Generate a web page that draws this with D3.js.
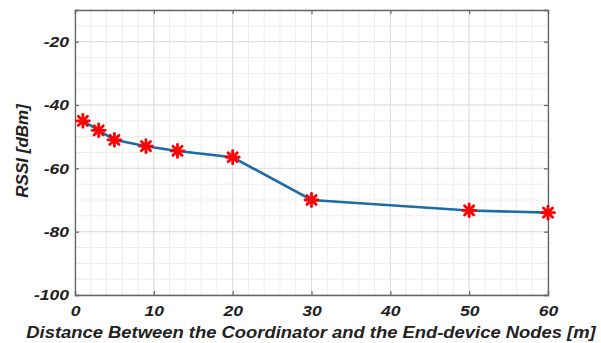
<!DOCTYPE html>
<html>
<head>
<meta charset="utf-8">
<script src="https://cdn.jsdelivr.net/npm/d3@7"></script>
<style>
  html, body { margin: 0; padding: 0; background: #fff; }
  svg text { font-family: Arial, "Liberation Sans", Helvetica, sans-serif; font-weight: bold; font-style: italic; }
</style>
</head>
<body>
<svg id="chart" width="601" height="343"></svg>
<script>
// Measured RSSI versus node distance
const distances = [1, 3, 5, 9, 13, 20, 30, 50, 60];
const rssi = [-45, -48, -51, -53, -54.5, -56.5, -70, -73.3, -74];
const xTicks = [0, 10, 20, 30, 40, 50, 60];
const yTicks = [-100, -80, -60, -40, -20];

const svg = d3.select("#chart");
const margin = { left: 75, right: 53, top: 10, bottom: 48 };
const W = 601, H = 343;
const x = d3.scaleLinear().domain([0, 60]).range([margin.left, W - margin.right]);
const y = d3.scaleLinear().domain([-100, -10]).range([H - margin.bottom, margin.top]);

// widen a text element horizontally by a factor
function widen(sel, k) {
  sel.each(function () {
    const len = this.getComputedTextLength();
    d3.select(this).attr("textLength", len * k).attr("lengthAdjust", "spacingAndGlyphs");
  });
}

const g = svg.append("g");

// minor grid
g.append("g").selectAll("line").data(d3.range(0, 61, 2)).join("line")
  .attr("x1", d => x(d)).attr("x2", d => x(d))
  .attr("y1", y(-100)).attr("y2", y(-10))
  .attr("stroke", "#ededed").attr("stroke-width", 1);
g.append("g").selectAll("line").data(d3.range(-100, -9, 5)).join("line")
  .attr("y1", d => y(d)).attr("y2", d => y(d))
  .attr("x1", x(0)).attr("x2", x(60))
  .attr("stroke", "#ededed").attr("stroke-width", 1);

// major grid
g.append("g").selectAll("line").data(xTicks).join("line")
  .attr("x1", d => x(d)).attr("x2", d => x(d))
  .attr("y1", y(-100)).attr("y2", y(-10))
  .attr("stroke", "#dddddd").attr("stroke-width", 1);
g.append("g").selectAll("line").data(yTicks).join("line")
  .attr("y1", d => y(d)).attr("y2", d => y(d))
  .attr("x1", x(0)).attr("x2", x(60))
  .attr("stroke", "#dddddd").attr("stroke-width", 1);

// axes with inward ticks on all four sides
const axisColor = "#666";
const fmt = d => String(d);
const axisB = d3.axisBottom(x).tickValues(xTicks).tickSize(-4).tickPadding(10).tickFormat(fmt);
const axisL = d3.axisLeft(y).tickValues(yTicks).tickSize(-4).tickPadding(6).tickFormat(fmt);
const axisT = d3.axisTop(x).tickValues(xTicks).tickSize(-4).tickFormat("");
const axisR = d3.axisRight(y).tickValues(yTicks).tickSize(-4).tickFormat("");

function styleAxis(sel) {
  sel.select(".domain").attr("stroke", axisColor).attr("stroke-width", 1.3);
  sel.selectAll(".tick line").attr("stroke", axisColor).attr("stroke-width", 1.2);
  sel.selectAll("text").attr("fill", "#222").style("font-size", "15px").call(widen, 1.17);
}
svg.append("g").attr("transform", `translate(0,${y(-100)})`).call(axisB).call(styleAxis);
svg.append("g").attr("transform", `translate(${x(0)},0)`).call(axisL).call(styleAxis);
svg.append("g").attr("transform", `translate(0,${y(-10)})`).call(axisT).call(styleAxis);
svg.append("g").attr("transform", `translate(${x(60)},0)`).call(axisR).call(styleAxis);

// data line
const pts = distances.map((d, i) => [d, rssi[i]]);
svg.append("path").datum(pts)
  .attr("fill", "none").attr("stroke", "#1b6ca8").attr("stroke-width", 2.6)
  .attr("d", d3.line().x(d => x(d[0])).y(d => y(d[1])));

// asterisk markers
const star = svg.append("g").selectAll("g").data(pts).join("g")
  .attr("transform", d => `translate(${x(d[0])},${y(d[1])})`);
const r = 6.5;
[0, 45, 90, 135].forEach(a => {
  star.append("line")
    .attr("x1", -r).attr("x2", r).attr("y1", 0).attr("y2", 0)
    .attr("transform", `rotate(${a})`)
    .attr("stroke", "#ff0000").attr("stroke-width", 2.8).attr("stroke-linecap", "round");
});

// axis titles
svg.append("text")
  .attr("x", 311).attr("y", 338)
  .attr("text-anchor", "middle").attr("fill", "#222").style("font-size", "16px")
  .text("Distance Between the Coordinator and the End-device Nodes [m]")
  .call(widen, 1.15);
svg.append("text")
  .attr("transform", `translate(28,${y(-54.5)}) rotate(-90)`)
  .attr("text-anchor", "middle").attr("fill", "#222").style("font-size", "17px")
  .text("RSSI [dBm]");
</script>
</body>
</html>
